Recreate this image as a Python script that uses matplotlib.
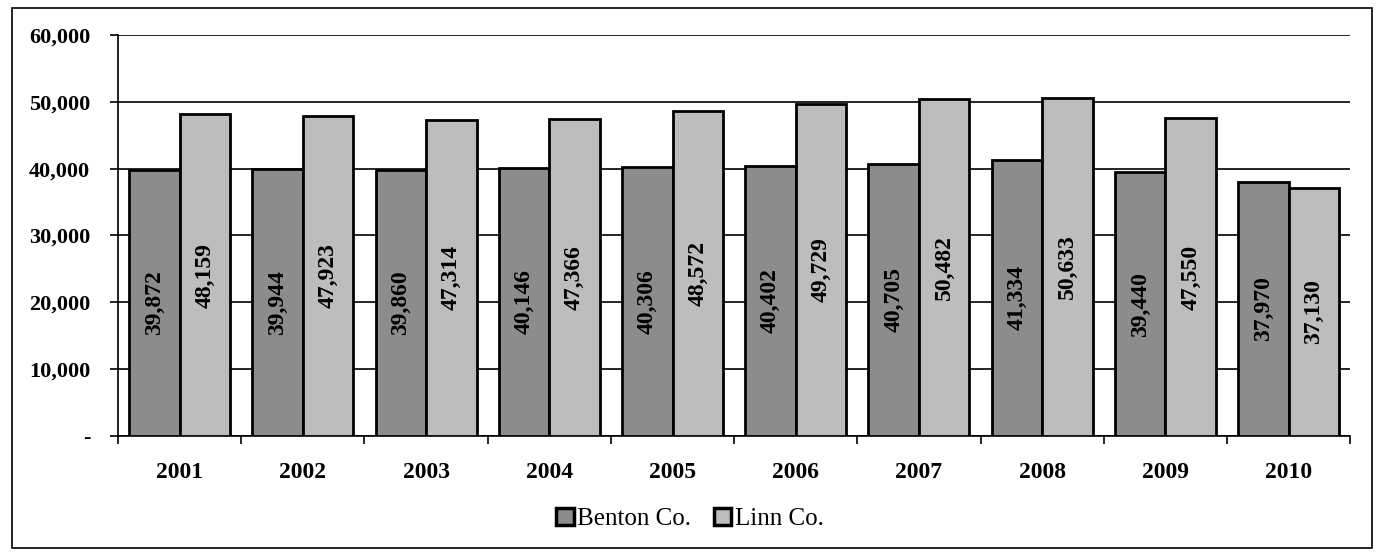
import numpy as np
import matplotlib.pyplot as plt
from matplotlib.patches import Rectangle
from matplotlib.ticker import FuncFormatter

years = ['2001', '2002', '2003', '2004', '2005', '2006', '2007', '2008', '2009', '2010']
benton = [39872, 39944, 39860, 40146, 40306, 40402, 40705, 41334, 39440, 37970]
linn = [48159, 47923, 47314, 47366, 48572, 49729, 50482, 50633, 47550, 37130]

plt.rcParams['font.family'] = ['Liberation Serif', 'DejaVu Serif']

fig = plt.figure(figsize=(13.82, 5.56), dpi=100)
ax = fig.add_axes([0.0854, 0.216, 0.8916, 0.721])

# outer frame of the chart area
fig.patches.append(Rectangle((12 / 1382, 8 / 556), 1360 / 1382, 540 / 556,
                             transform=fig.transFigure, fill=False,
                             edgecolor='black', linewidth=1.2))

x = np.arange(len(years))
w = 0.41
b1 = ax.bar(x - w / 2, benton, w, color='#8c8c8c', edgecolor='black',
            linewidth=2, label='Benton Co.', zorder=3)
b2 = ax.bar(x + w / 2, linn, w, color='#bdbdbd', edgecolor='black',
            linewidth=2, label='Linn Co.', zorder=3)

for bars, vals in ((b1, benton), (b2, linn)):
    for r, v in zip(bars, vals):
        ax.text(r.get_x() + r.get_width() / 2, v / 2, f'{v:,}', rotation=90,
                ha='center', va='center', fontsize=17, fontweight='bold', zorder=4)

ax.set_ylim(0, 60000)
ax.set_xlim(-0.5, len(years) - 0.5)
ax.set_yticks(range(0, 60001, 10000))
ax.yaxis.set_major_formatter(FuncFormatter(lambda v, p: '-' if v == 0 else f'{int(v):,}'))
ax.set_xticks(x)
ax.set_xticklabels(years)
ax.set_xticks(np.arange(-0.5, len(years)), minor=True)
ax.tick_params(axis='x', which='major', length=0, pad=19, labelsize=17)
ax.tick_params(axis='x', which='minor', length=6, width=1.2, direction='out')
ax.tick_params(axis='y', length=6, width=1.2, direction='out', labelsize=16, pad=14)
for lab in ax.get_xticklabels() + ax.get_yticklabels():
    lab.set_fontweight('bold')

ax.grid(axis='y', color='black', linewidth=1.2, zorder=0)
for s in ['top', 'right']:
    ax.spines[s].set_visible(False)
ax.spines['left'].set_linewidth(1.2)
ax.spines['bottom'].set_linewidth(1.2)

leg = fig.legend(loc='center', bbox_to_anchor=(690 / 1382, 1 - 519 / 556), ncol=2,
                 frameon=False, fontsize=18, handlelength=0.7, handleheight=0.7,
                 handletextpad=0.15, columnspacing=0.9)
for h in leg.legend_handles:
    h.set_linewidth(2.5)

fig.savefig('out.png', dpi=100)
